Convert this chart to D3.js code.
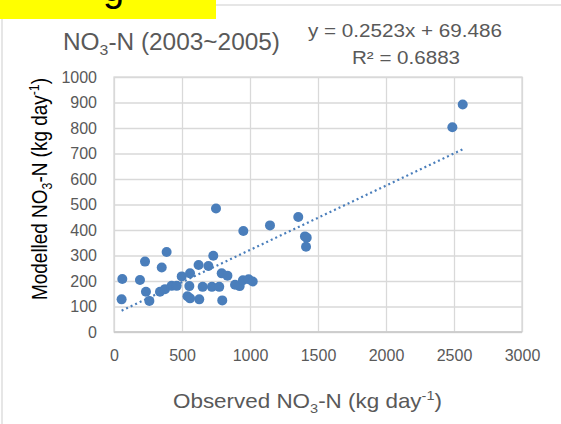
<!DOCTYPE html>
<html><head><meta charset="utf-8">
<script src="https://cdn.jsdelivr.net/npm/d3@7"></script>
<style>
body{margin:0;background:#fff}
svg{display:block}
text{font-family:"Liberation Sans",Arial,sans-serif}
</style>
</head><body>
<svg id="c" width="561" height="424"></svg>
<script>
// ---- data ----
const observed = [56, 61, 191, 228, 235, 260, 338, 351, 375, 387, 424, 461, 498, 540, 554, 559, 559, 627, 622, 652, 694, 720, 730, 750, 774, 792, 796, 834, 890, 924, 948, 951, 990, 1020, 1147, 1355, 1404, 1417, 1412, 2488, 2564];
const modelled = [128, 208, 204, 276, 158, 122, 158, 253, 168, 314, 181, 181, 218, 140, 180, 230, 132, 128, 263, 177, 259, 177, 299, 484, 177, 230, 124, 221, 185, 180, 203, 396, 207, 198, 418, 451, 375, 370, 334, 803, 892];
const xTicks = [0, 500, 1000, 1500, 2000, 2500, 3000];
const yTicks = [0, 100, 200, 300, 400, 500, 600, 700, 800, 900, 1000];
const slope = 0.2523, intercept = 69.486, rSquared = 0.6883;
const eqText = "y = 0.2523x + 69.486";
const r2Text = "R² = 0.6883";

const svg = d3.select("#c");
const L = 114, R = 522, T = 77, B = 332;
const x = d3.scaleLinear().domain([0, 3000]).range([L, R]);
const y = d3.scaleLinear().domain([0, 1000]).range([B, T]);
const grid = "#d9d9d9", txt = "#595959", blue = "#4a7ebb";

// outer chart frame
svg.append("rect").attr("x", 2).attr("y", 5).attr("width", 600).attr("height", 500)
  .attr("fill", "none").attr("stroke", grid).attr("stroke-width", 1.3);

// yellow label box (cut off at the top, as in the source)
svg.append("rect").attr("x", 0).attr("y", 0).attr("width", 216).attr("height", 19).attr("fill", "#ffff00");
svg.append("text").attr("x", 103).attr("y", 1).attr("font-size", 38).attr("fill", "#000").text("g");

// axes with gridlines
const yAxis = d3.axisLeft(y).tickValues(yTicks).tickSizeInner(-(R - L)).tickSizeOuter(0).tickPadding(17).tickFormat(d3.format("d"));
const gy = svg.append("g").attr("transform", `translate(${L},0)`).call(yAxis);
const xAxis = d3.axisBottom(x).tickValues(xTicks).tickSizeInner(-(B - T)).tickSizeOuter(0).tickPadding(18).tickFormat(d3.format("d"));
const gx = svg.append("g").attr("transform", `translate(0,${B})`).call(xAxis);
[gx, gy].forEach(g => {
  g.select(".domain").remove();
  g.selectAll(".tick line").attr("stroke", grid).attr("stroke-width", 1.3);
  g.selectAll(".tick text").attr("fill", txt).attr("font-size", 16)
    .attr("font-family", '"Liberation Sans",Arial,sans-serif');
});
svg.append("rect").attr("x", L).attr("y", T).attr("width", R - L).attr("height", B - T)
  .attr("fill", "none").attr("stroke", grid).attr("stroke-width", 1.3);
svg.append("line").attr("x1", L).attr("x2", R).attr("y1", B).attr("y2", B)
  .attr("stroke", "#c8c8c8").attr("stroke-width", 1.3);

// points
const pts = observed.map((d, i) => ({x: d, y: modelled[i]}));
svg.append("g").selectAll("circle").data(pts).join("circle")
  .attr("cx", d => x(d.x)).attr("cy", d => y(d.y)).attr("r", 5).attr("fill", blue);

// trendline
const xmin = d3.min(observed), xmax = d3.max(observed);
svg.append("line")
  .attr("x1", x(xmin)).attr("y1", y(slope * xmin + intercept))
  .attr("x2", x(xmax)).attr("y2", y(slope * xmax + intercept))
  .attr("stroke", blue).attr("stroke-width", 2.2).attr("stroke-dasharray", "2,3");

// title
const title = svg.append("text").attr("x", 63).attr("y", 50).attr("font-size", 23).attr("fill", txt)
  .attr("textLength", 217).attr("lengthAdjust", "spacingAndGlyphs");
title.append("tspan").text("NO");
title.append("tspan").attr("font-size", "0.65em").attr("dy", 5).text("3");
title.append("tspan").attr("dy", -5).text("-N (2003~2005)");

// equation
svg.append("text").attr("x", 308).attr("y", 37).attr("font-size", 18).attr("fill", txt)
  .attr("textLength", 194).attr("lengthAdjust", "spacingAndGlyphs").text(eqText);
svg.append("text").attr("x", 352).attr("y", 64).attr("font-size", 18).attr("fill", txt)
  .attr("textLength", 108).attr("lengthAdjust", "spacingAndGlyphs").text(r2Text);

// x title
const xt = svg.append("text").attr("x", 173).attr("y", 408).attr("font-size", 21).attr("fill", txt)
  .attr("textLength", 269).attr("lengthAdjust", "spacingAndGlyphs");
xt.append("tspan").text("Observed NO");
xt.append("tspan").attr("font-size", "0.65em").attr("dy", 5).text("3");
xt.append("tspan").attr("dy", -5).text("-N (kg day");
xt.append("tspan").attr("font-size", "0.65em").attr("dy", -8).text("-1");
xt.append("tspan").attr("dy", 8).text(")");

// y title
const yt = svg.append("text").attr("transform", "translate(47,300) rotate(-90)").attr("font-size", 22).attr("fill", "#000")
  .attr("textLength", 222).attr("lengthAdjust", "spacingAndGlyphs");
yt.append("tspan").text("Modelled NO");
yt.append("tspan").attr("font-size", "0.65em").attr("dy", 5).text("3");
yt.append("tspan").attr("dy", -5).text("-N (kg day");
yt.append("tspan").attr("font-size", "0.65em").attr("dy", -8).text("-1");
yt.append("tspan").attr("dy", 8).text(")");
</script>
</body></html>
